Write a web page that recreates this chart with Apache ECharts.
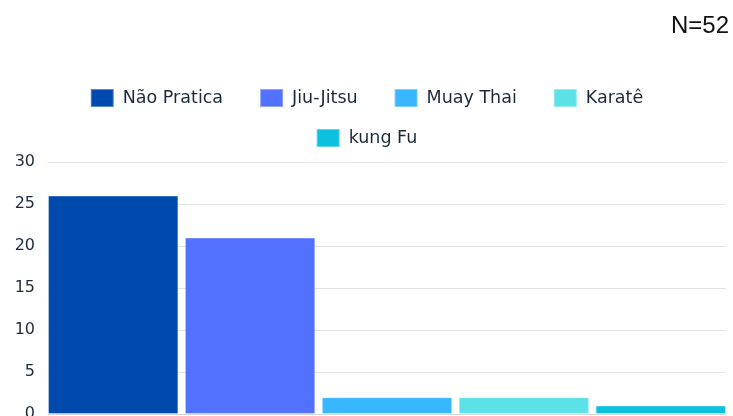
<!DOCTYPE html>
<html lang="pt">
<head>
    <meta charset="UTF-8">
    <title>Modalidades</title>
    <script src="https://cdn.jsdelivr.net/npm/echarts@6/dist/echarts.min.js"></script>
    <style>
        body { margin: 0; background: #fff; }
    </style>
</head>
<body>
<div id="main" style="width: 733px;height:416px;"></div>
<script>
    var names = ['Não Pratica', 'Jiu-Jitsu', 'Muay Thai', 'Karatê', 'kung Fu'];
    var values = [26, 21, 2, 2, 1];
    var colors = ['#004aad', '#5271ff', '#38b6ff', '#5ce1e6', '#0cc0df'];
    var yTicks = [0, 5, 10, 15, 20, 25, 30];

    var series = [];
    for (var i = 0; i < names.length; i++) {
        series.push({
            name: names[i],
            type: 'bar',
            barGap: '5%',
            barCategoryGap: 0,
            itemStyle: {
                color: colors[i],
                borderColor: 'rgba(255,255,255,0.35)',
                borderWidth: 1
            },
            data: [values[i]]
        });
    }

    // legenda em duas linhas, como no original
    var legendStyle = {
        left: 'center',
        itemWidth: 23,
        itemHeight: 18,
        itemGap: 36,
        icon: 'rect',
        textStyle: { fontSize: 17.5, color: '#1b2a3a', padding: [0, 0, 0, 4], fontFamily: 'DejaVu Sans' }
    };

    var myChart = echarts.init(document.getElementById('main'));
    var option = {
        color: colors,
        textStyle: { fontFamily: 'DejaVu Sans' },
        title: {
            text: 'N=52',
            right: -1,
            top: 9,
            textStyle: { fontSize: 24, fontWeight: 'normal', color: '#111', fontFamily: 'Liberation Sans' }
        },
        legend: [
            Object.assign({ top: 83, data: names.slice(0, 4) }, legendStyle),
            Object.assign({ top: 123, data: names.slice(4) }, legendStyle)
        ],
        grid: { left: 48, right: 7, top: 162, bottom: 2, containLabel: false, outerBoundsMode: 'none' },
        xAxis: {
            type: 'category',
            data: [''],
            axisLine: { lineStyle: { color: '#d9d9d9' } },
            axisTick: { show: false },
            axisLabel: { show: false }
        },
        yAxis: {
            type: 'value',
            min: yTicks[0],
            max: yTicks[yTicks.length - 1],
            interval: 5,
            axisLabel: { fontSize: 16, color: '#1b2a3a', margin: 13 },
            splitLine: { lineStyle: { color: '#e3e3e3' } }
        },
        series: series
    };
    myChart.setOption(option);
</script>
</body>
</html>
